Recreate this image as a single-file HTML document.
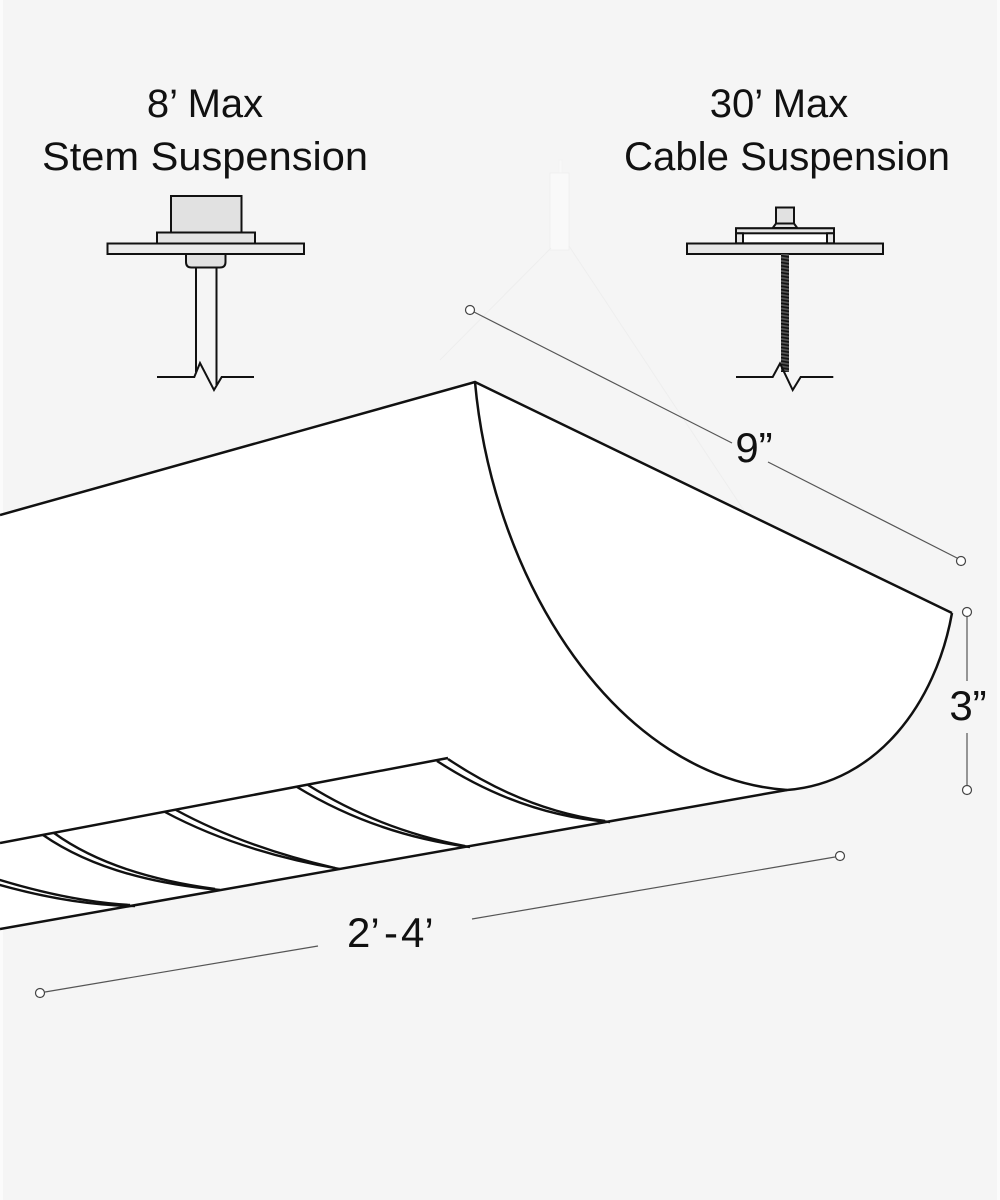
<!DOCTYPE html>
<html>
<head>
<meta charset="utf-8">
<style>
  html, body { margin: 0; padding: 0; background: #f5f5f5; }
  body { width: 1000px; height: 1200px; overflow: hidden; }
  svg { display: block; }
  text { font-family: "Liberation Sans", Arial, sans-serif; fill: #111; }
</style>
</head>
<body>
<svg width="1000" height="1200" viewBox="0 0 1000 1200" xmlns="http://www.w3.org/2000/svg">
  <defs>
    <pattern id="coil" x="0" y="0" width="10" height="3.4" patternUnits="userSpaceOnUse">
      <rect width="10" height="3.4" fill="#555"/>
      <path d="M0,0.4 L10,2.2" stroke="#111" stroke-width="1.6"/>
    </pattern>
  </defs>

  <!-- background -->
  <rect x="0" y="0" width="1000" height="1200" fill="#f5f5f5"/>
  <rect x="0" y="0" width="3" height="1200" fill="#fbfbfb"/>
  <rect x="997" y="0" width="3" height="1200" fill="#fbfbfb"/>

  <!-- faint ghost pendant -->
  <rect x="559" y="160" width="3" height="14" fill="#f8f8f8" stroke="#f1f1f1" stroke-width="0.6"/>
  <rect x="550" y="173" width="19" height="77" fill="#f9f9f9" stroke="#efefef" stroke-width="0.8"/>
  <line x1="551" y1="248" x2="440" y2="360" stroke="#eeeeee" stroke-width="1"/>
  <line x1="569" y1="246" x2="745" y2="512" stroke="#eeeeee" stroke-width="1"/>

  <!-- titles -->
  <text x="205" y="117" font-size="40" text-anchor="middle">8’ Max</text>
  <text x="205" y="170" font-size="40" text-anchor="middle" textLength="326" lengthAdjust="spacingAndGlyphs">Stem Suspension</text>
  <text x="779" y="117" font-size="40" text-anchor="middle">30’ Max</text>
  <text x="787" y="170" font-size="40" text-anchor="middle" textLength="326" lengthAdjust="spacingAndGlyphs">Cable Suspension</text>

  <!-- STEM SUSPENSION detail -->
  <g stroke="#111" stroke-width="2" stroke-linejoin="miter">
    <rect x="171" y="196" width="70.5" height="36.5" fill="#e1e1e1"/>
    <rect x="157" y="232.5" width="98" height="11" fill="#e4e4e4"/>
    <rect x="107.5" y="243.5" width="196.5" height="10.5" fill="#ebebeb"/>
    <path d="M186,254 L186,262 Q186,267.5 191.5,267.5 L220,267.5 Q225.5,267.5 225.5,262 L225.5,254 Z" fill="#e1e1e1"/>
    <line x1="196" y1="267.5" x2="196" y2="372" fill="none"/>
    <line x1="216.5" y1="267.5" x2="216.5" y2="385" fill="none"/>
    <polyline points="157,377 194.3,377 200,363 214,390 221.7,377 254,377" fill="none"/>
  </g>

  <!-- CABLE SUSPENSION detail -->
  <g stroke="#111" stroke-width="2">
    <rect x="776" y="207.5" width="18" height="16" fill="#e1e1e1"/>
    <path d="M772.7,228 L776,223.5 L794,223.5 L797.3,228 Z" fill="#e1e1e1"/>
    <rect x="736" y="228.3" width="98" height="15" fill="#ffffff"/>
    <rect x="736" y="228.3" width="98" height="5" fill="#e6e6e6"/>
    <rect x="736" y="233.3" width="7" height="10" fill="#e6e6e6"/>
    <rect x="827" y="233.3" width="7" height="10" fill="#e6e6e6"/>
    <rect x="687" y="243.5" width="196" height="10.5" fill="#e6e6e6"/>
  </g>
  <rect x="781" y="254" width="8" height="118" fill="url(#coil)"/>
  <polyline points="736,377 772.7,377 780,363.5 792.7,390 800.7,377 833.3,377" fill="none" stroke="#111" stroke-width="2"/>

  <!-- FIXTURE body -->
  <path d="M0,515 L475,382 L952,613 C936,703 877,783 787,790 L0,929 Z" fill="#ffffff"/>

  <!-- louvers -->
  <g fill="none" stroke="#111" stroke-width="2.4">
    <path d="M-80,858 Q40,905 135,906"/>
    <path d="M-69,856 Q44,900 130,905"/>
    <path d="M43,835 Q108,880 220,890"/>
    <path d="M54,833 Q112,875 215,889"/>
    <path d="M165,812 Q240,852 340,869"/>
    <path d="M176,810 Q244,847 335,868"/>
    <path d="M297,787 Q376,835 470,847"/>
    <path d="M308,785 Q380,830 465,846"/>
    <path d="M437,761 Q520,815 610,822"/>
    <path d="M448,759 Q524,810 605,821"/>
  </g>

  <!-- fixture outlines -->
  <g fill="none" stroke="#111" stroke-width="2.5" stroke-linejoin="miter">
    <path d="M0,515 L475,382 L952,613"/>
    <path d="M475,382 C493,582 617,778 787,790 C877,783 936,703 952,613"/>
    <path d="M787,790 L0,929"/>
    <path d="M0,843 L448,758"/>
  </g>

  <!-- DIMENSIONS -->
  <g stroke="#555" stroke-width="1.2" fill="none">
    <line x1="474" y1="312" x2="732" y2="443"/>
    <line x1="768" y1="462" x2="957" y2="558"/>
    <line x1="967" y1="617" x2="967" y2="681"/>
    <line x1="967" y1="733" x2="967" y2="785"/>
    <line x1="45" y1="992" x2="318" y2="946"/>
    <line x1="472" y1="919" x2="835" y2="857"/>
  </g>
  <g stroke="#444" stroke-width="1.2" fill="#ffffff">
    <circle cx="470" cy="310" r="4.5"/>
    <circle cx="961" cy="561" r="4.5"/>
    <circle cx="967" cy="612" r="4.5"/>
    <circle cx="967" cy="790" r="4.5"/>
    <circle cx="40" cy="993" r="4.5"/>
    <circle cx="840" cy="856" r="4.5"/>
  </g>

  <text x="754" y="462" font-size="42" text-anchor="middle">9”</text>
  <text x="968" y="720" font-size="42" text-anchor="middle">3”</text>
  <text y="947" font-size="42"><tspan x="347">2’</tspan><tspan x="384">-</tspan><tspan x="401">4’</tspan></text>
</svg>
</body>
</html>
